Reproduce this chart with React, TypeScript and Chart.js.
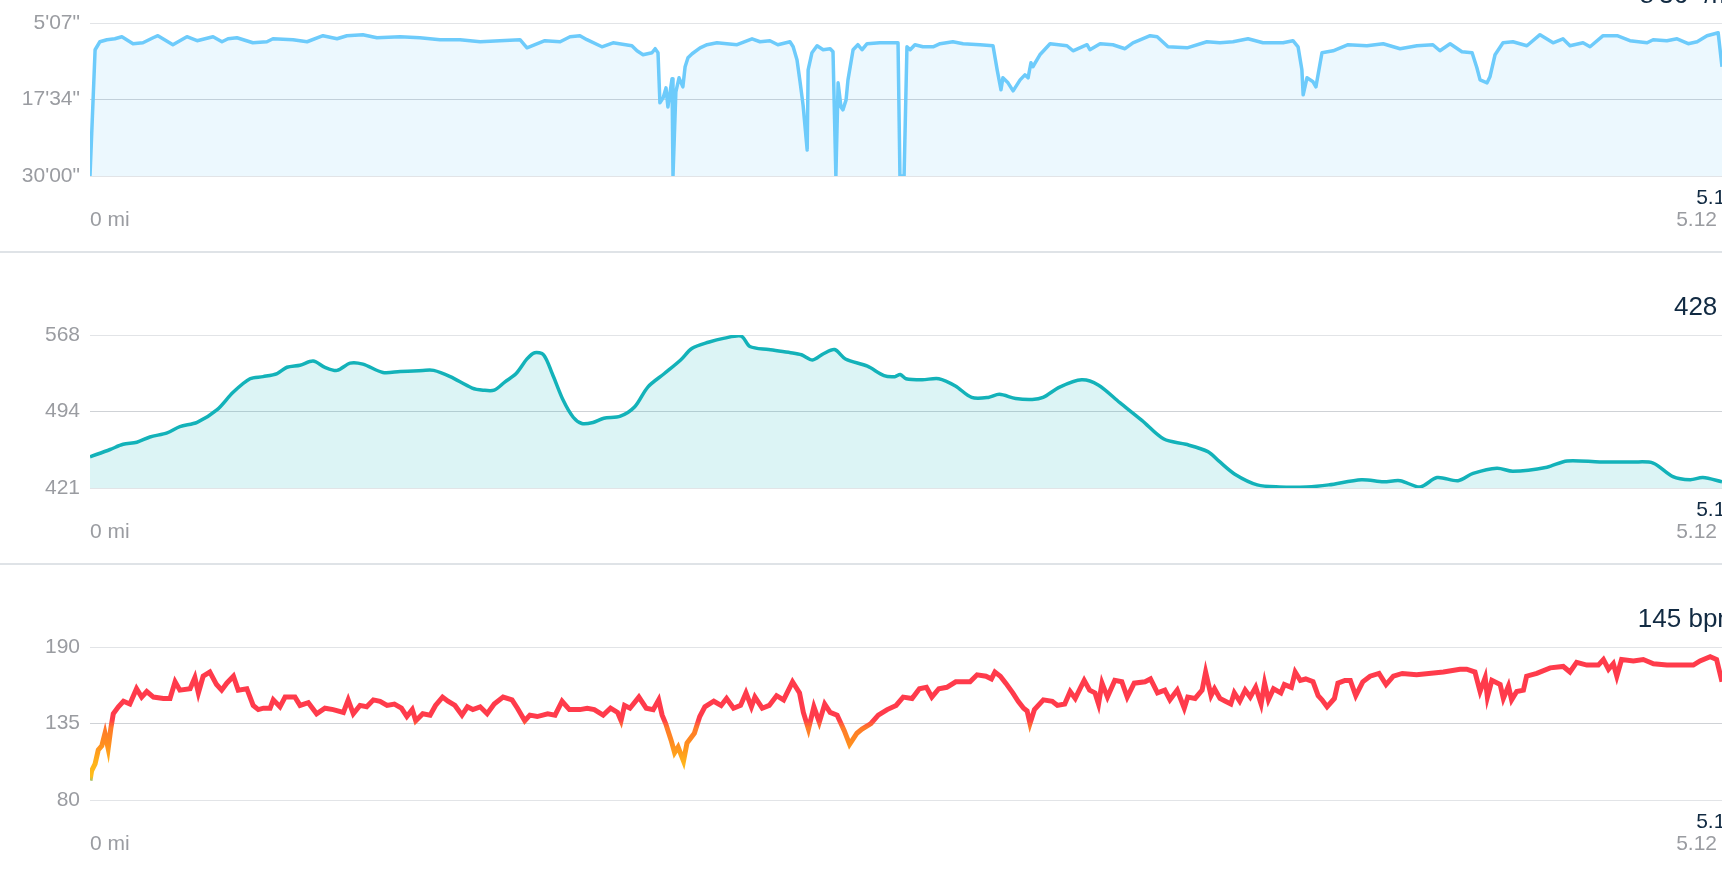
import React, { useEffect, useRef } from 'react';
import { Chart, registerables } from 'chart.js';

Chart.register(...registerables);

const FONT = '"Liberation Sans", Arial, Helvetica, sans-serif';
const TICK_GRAY = '#9a9ca1';
const HEADER_DARK = '#112a42';
const GRID = '#e2e4e7';
const GRID_MID = '#cfd2d6';

// ---- shared axis data ----
const distanceRange = [0, 5.12];
const xLabels = ['0 mi', '5.12 mi'];
const cursorLabel = '5.12';
const headers = ["8'36\" /mi", '428 ft', '145 bpm'];

// ---- pace (seconds per mile) ----
const paceTicks = [307, 1054, 1800];
const paceDist = [
  0.000, 0.016, 0.031, 0.053, 0.078, 0.100, 0.135, 0.166, 0.198, 0.213,
  0.260, 0.304, 0.336, 0.386, 0.414, 0.433, 0.461, 0.511, 0.555, 0.574,
  0.637, 0.681, 0.731, 0.775, 0.806, 0.856, 0.900, 0.973, 1.035, 1.098,
  1.161, 1.224, 1.286, 1.349, 1.371, 1.396, 1.427, 1.475, 1.506, 1.537,
  1.559, 1.606, 1.641, 1.700, 1.716, 1.735, 1.763, 1.773, 1.782, 1.788,
  1.798, 1.807, 1.813, 1.826, 1.829, 1.838, 1.848, 1.860, 1.867, 1.876,
  1.889, 1.914, 1.936, 1.967, 1.998, 2.030, 2.077, 2.102, 2.133, 2.158,
  2.196, 2.206, 2.218, 2.228, 2.237, 2.250, 2.253, 2.265, 2.281, 2.300,
  2.322, 2.331, 2.340, 2.347, 2.356, 2.362, 2.372, 2.378, 2.394, 2.409,
  2.422, 2.438, 2.478, 2.510, 2.535, 2.541, 2.554, 2.563, 2.573, 2.588,
  2.613, 2.645, 2.667, 2.707, 2.739, 2.792, 2.833, 2.846, 2.858, 2.864,
  2.880, 2.896, 2.918, 2.933, 2.943, 2.952, 2.958, 2.980, 3.012, 3.065,
  3.084, 3.128, 3.137, 3.169, 3.209, 3.247, 3.272, 3.326, 3.348, 3.382,
  3.442, 3.504, 3.545, 3.586, 3.633, 3.680, 3.743, 3.774, 3.790, 3.802,
  3.806, 3.818, 3.837, 3.846, 3.865, 3.900, 3.947, 4.006, 4.057, 4.110,
  4.163, 4.213, 4.235, 4.267, 4.304, 4.336, 4.351, 4.361, 4.383, 4.392,
  4.408, 4.433, 4.464, 4.508, 4.549, 4.590, 4.621, 4.643, 4.684, 4.706,
  4.747, 4.791, 4.831, 4.885, 4.904, 4.947, 4.979, 5.014, 5.042, 5.073,
  5.108, 5.120,
];
const paceSec = [
  1800, 568, 490, 470, 461, 441, 509, 500, 451, 431,
  519, 441, 480, 441, 490, 461, 451, 500, 490, 461,
  470, 490, 431, 461, 431, 421, 451, 441, 451, 470,
  470, 490, 480, 470, 549, 519, 480, 490, 441, 431,
  470, 539, 500, 529, 578, 617, 597, 558, 597, 1086,
  1038, 940, 1126, 852, 1800, 979, 842, 930, 734, 646,
  607, 549, 519, 500, 509, 519, 461, 490, 480, 519,
  490, 539, 666, 891, 1106, 1546, 764, 597, 529, 568,
  558, 588, 1800, 891, 1126, 1155, 1057, 862, 568, 519,
  568, 509, 500, 500, 500, 1800, 1800, 539, 568, 519,
  539, 539, 509, 490, 509, 519, 529, 764, 959, 842,
  891, 969, 862, 813, 842, 695, 734, 617, 509, 529,
  578, 519, 568, 509, 519, 558, 500, 431, 441, 539,
  549, 490, 500, 490, 461, 500, 500, 480, 539, 764,
  1008, 842, 881, 930, 597, 578, 519, 529, 509, 558,
  529, 519, 578, 509, 588, 597, 744, 862, 891, 832,
  617, 500, 490, 529, 421, 500, 461, 529, 500, 539,
  431, 431, 480, 500, 470, 480, 461, 509, 490, 431,
  402, 734,
];

// ---- elevation (ft) ----
const elevTicks = [421, 494.5, 568];
const elevTickLabels = ['421', '494', '568'];
const elevDist = [
  0.000, 0.063, 0.104, 0.147, 0.188, 0.242, 0.282, 0.336, 0.398, 0.449,
  0.502, 0.543, 0.587, 0.618, 0.659, 0.700, 0.737, 0.775, 0.816, 0.856,
  0.919, 0.973, 1.044, 1.078, 1.130, 1.199, 1.233, 1.268, 1.302, 1.337,
  1.371, 1.395, 1.423, 1.450, 1.485, 1.516, 1.543, 1.578, 1.612, 1.664,
  1.709, 1.750, 1.802, 1.853, 1.888, 1.940, 1.991, 2.043, 2.070, 2.129,
  2.198, 2.232, 2.267, 2.301, 2.336, 2.370, 2.439, 2.491, 2.525, 2.542,
  2.560, 2.611, 2.663, 2.715, 2.766, 2.818, 2.853, 2.904, 2.956, 2.990,
  3.042, 3.111, 3.163, 3.231, 3.300, 3.369, 3.438, 3.507, 3.541, 3.593,
  3.662, 3.731, 3.817, 3.886, 3.989, 4.058, 4.110, 4.173, 4.226, 4.292,
  4.339, 4.414, 4.464, 4.571, 4.634, 4.737, 4.841, 4.904, 4.966, 5.020,
  5.060, 5.120,
];
const elevFt = [
  451, 458, 463, 465, 470, 474, 480, 484, 496, 513,
  526, 528, 531, 537, 539, 543, 537, 534, 541, 540,
  532, 533, 534, 534, 528, 517, 515, 515, 523, 531,
  545, 551, 549, 531, 505, 489, 483, 484, 488, 490,
  499, 518, 531, 544, 555, 561, 565, 567, 557, 554,
  551, 549, 544, 550, 554, 545, 538, 529, 528, 530,
  526, 525, 526, 519, 508, 508, 511, 507, 506, 508,
  518, 525, 520, 503, 486, 468, 463, 456, 447, 434,
  424, 422, 422, 424, 429, 427, 428, 422, 431, 428,
  435, 440, 437, 441, 447, 446, 446, 445, 432, 429,
  431, 427,
];

// ---- heart rate (bpm) ----
const hrTicks = [80, 135, 190];
const hrDist = [
  0.000, 0.005, 0.016, 0.026, 0.037, 0.047, 0.057, 0.065, 0.073, 0.089,
  0.105, 0.125, 0.146, 0.162, 0.178, 0.199, 0.230, 0.251, 0.267, 0.282,
  0.314, 0.329, 0.340, 0.355, 0.376, 0.397, 0.413, 0.429, 0.450, 0.465,
  0.492, 0.512, 0.528, 0.544, 0.565, 0.575, 0.596, 0.612, 0.643, 0.659,
  0.685, 0.711, 0.737, 0.763, 0.795, 0.810, 0.826, 0.847, 0.868, 0.889,
  0.910, 0.932, 0.955, 0.977, 0.994, 1.011, 1.022, 1.044, 1.067, 1.084,
  1.106, 1.123, 1.145, 1.167, 1.184, 1.201, 1.224, 1.246, 1.268, 1.296,
  1.324, 1.341, 1.364, 1.380, 1.403, 1.436, 1.459, 1.481, 1.504, 1.537,
  1.560, 1.582, 1.610, 1.633, 1.655, 1.666, 1.677, 1.694, 1.722, 1.745,
  1.767, 1.784, 1.795, 1.806, 1.823, 1.834, 1.845, 1.862, 1.873, 1.896,
  1.913, 1.929, 1.957, 1.980, 1.997, 2.019, 2.041, 2.058, 2.075, 2.086,
  2.109, 2.131, 2.154, 2.176, 2.204, 2.226, 2.238, 2.254, 2.271, 2.288,
  2.305, 2.322, 2.344, 2.366, 2.383, 2.406, 2.422, 2.450, 2.473, 2.501,
  2.529, 2.551, 2.579, 2.602, 2.624, 2.641, 2.663, 2.688, 2.716, 2.761,
  2.783, 2.811, 2.828, 2.839, 2.856, 2.873, 2.895, 2.912, 2.929, 2.940,
  2.949, 2.963, 2.991, 3.019, 3.035, 3.058, 3.075, 3.091, 3.108, 3.119,
  3.136, 3.153, 3.164, 3.175, 3.192, 3.215, 3.237, 3.254, 3.276, 3.310,
  3.327, 3.349, 3.372, 3.388, 3.411, 3.433, 3.444, 3.467, 3.489, 3.500,
  3.517, 3.528, 3.545, 3.562, 3.579, 3.590, 3.607, 3.624, 3.640, 3.657,
  3.674, 3.685, 3.697, 3.713, 3.736, 3.747, 3.769, 3.781, 3.797, 3.814,
  3.837, 3.853, 3.865, 3.881, 3.904, 3.915, 3.937, 3.954, 3.971, 3.993,
  4.016, 4.044, 4.066, 4.089, 4.117, 4.162, 4.246, 4.298, 4.319, 4.345,
  4.361, 4.377, 4.384, 4.398, 4.424, 4.434, 4.450, 4.460, 4.476, 4.497,
  4.507, 4.539, 4.581, 4.622, 4.643, 4.664, 4.696, 4.732, 4.748, 4.764,
  4.779, 4.790, 4.805, 4.842, 4.873, 4.905, 4.947, 4.999, 5.030, 5.051,
  5.083, 5.103, 5.120,
];
const hrBpm = [
  94, 101, 106, 116, 119, 128, 117, 131, 142, 147,
  151, 149, 160, 154, 158, 154, 153, 153, 165, 159,
  160, 168, 157, 169, 172, 163, 159, 164, 169, 159,
  160, 148, 145, 146, 146, 152, 147, 154, 154, 148,
  150, 142, 146, 145, 143, 152, 142, 148, 147, 152,
  151, 148, 149, 146, 140, 145, 137, 142, 141, 148,
  154, 151, 148, 141, 147, 145, 147, 142, 149, 154,
  152, 146, 137, 141, 140, 142, 141, 151, 145, 145,
  146, 145, 141, 146, 143, 137, 148, 146, 154, 146,
  145, 152, 141, 135, 123, 114, 118, 108, 121, 128,
  140, 147, 151, 148, 153, 146, 148, 157, 147, 154,
  146, 148, 155, 152, 165, 157, 143, 131, 147, 136,
  149, 143, 141, 130, 120, 128, 131, 135, 141, 145,
  148, 154, 153, 160, 161, 154, 160, 161, 165, 165,
  170, 169, 167, 172, 169, 164, 157, 151, 146, 144,
  135, 145, 152, 151, 148, 149, 158, 153, 161, 166,
  159, 157, 149, 164, 154, 166, 165, 154, 164, 165,
  167, 157, 159, 152, 159, 146, 154, 153, 159, 172,
  155, 160, 153, 151, 149, 157, 151, 159, 154, 161,
  149, 164, 152, 160, 157, 163, 161, 172, 166, 167,
  165, 155, 152, 147, 153, 164, 166, 166, 155, 165,
  169, 171, 163, 169, 171, 170, 172, 174, 174, 172,
  158, 168, 154, 166, 163, 153, 162, 152, 158, 159,
  169, 171, 175, 176, 172, 179, 177, 177, 181, 174,
  178, 169, 181, 180, 181, 178, 177, 177, 177, 180,
  183, 181, 165,
];

function fmtPace(s: number): string {
  const m = Math.floor(s / 60);
  const ss = Math.round(s - m * 60);
  return `${m}'${String(ss).padStart(2, '0')}"`;
}

function toPoints(xs: number[], ys: number[]) {
  return xs.map((x, i) => ({ x, y: ys[i] }));
}

const panelText = {
  id: 'panelText',
  afterDraw(chart: any, _args: any, opts: any) {
    const { ctx, chartArea, scales } = chart;
    const x0 = scales.x.getPixelForValue(distanceRange[0]);
    const xEnd = scales.x.getPixelForValue(distanceRange[1]);
    ctx.save();
    ctx.textBaseline = 'middle';
    ctx.textAlign = 'right';
    ctx.fillStyle = HEADER_DARK;
    ctx.font = `26px ${FONT}`;
    ctx.fillText(opts.header, xEnd + 17, chartArea.top - 27);
    ctx.font = `21px ${FONT}`;
    ctx.fillText(cursorLabel, xEnd + 15, chartArea.bottom + 22);
    ctx.fillStyle = TICK_GRAY;
    ctx.fillText(xLabels[1], xEnd + 23, chartArea.bottom + 44);
    ctx.textAlign = 'left';
    ctx.fillText(xLabels[0], x0, chartArea.bottom + 44);
    ctx.restore();
  },
};

function yScale(ticks: number[], min: number, max: number, label: (v: number, i: number) => string, reverse = false) {
  return {
    type: 'linear',
    min,
    max,
    reverse,
    afterBuildTicks: (s: any) => {
      s.ticks = ticks.map((v) => ({ value: v }));
    },
    afterFit: (s: any) => {
      s.width = 90;
    },
    border: { display: false },
    grid: {
      drawTicks: false,
      color: (c: any) => (c.index === 1 ? GRID_MID : GRID),
      lineWidth: 1,
    },
    ticks: {
      padding: 10,
      color: TICK_GRAY,
      font: { family: FONT, size: 21 },
      callback: (v: any, i: number) => label(Number(v), i),
    },
  };
}

function hrGradient(c: any) {
  const chart = c.chart;
  if (!chart.chartArea) return '#ff3b4b';
  const y = chart.scales.y;
  const g = chart.ctx.createLinearGradient(0, y.getPixelForValue(90), 0, y.getPixelForValue(140));
  g.addColorStop(0, '#3cc4c2');
  g.addColorStop(0.14, '#ffbd1a');
  g.addColorStop(0.32, '#ffb41a');
  g.addColorStop(0.62, '#ff8c1f');
  g.addColorStop(0.84, '#ff7a2a');
  g.addColorStop(0.95, '#ff3d4a');
  g.addColorStop(1, '#ff3b4b');
  return g;
}

function baseOptions(header: string, y: any) {
  return {
    responsive: false,
    animation: false,
    events: [],
    layout: { padding: { top: 82, bottom: 75, left: 0, right: 38 } },
    plugins: {
      legend: { display: false },
      tooltip: { enabled: false },
      panelText: { header },
    },
    scales: {
      x: { type: 'linear', min: distanceRange[0], max: distanceRange[1], display: false },
      y,
    },
  };
}

const configs = [
  () => ({
    type: 'line',
    data: {
      datasets: [
        {
          data: toPoints(paceDist, paceSec),
          borderColor: '#6dcbfb',
          backgroundColor: 'rgba(109,203,251,0.13)',
          fill: 'start',
          borderWidth: 3.5,
          pointRadius: 0,
          tension: 0,
          borderJoinStyle: 'round',
        },
      ],
    },
    options: baseOptions(headers[0], yScale(paceTicks, paceTicks[0], paceTicks[2], (v) => fmtPace(v), true)),
    plugins: [panelText],
  }),
  () => ({
    type: 'line',
    data: {
      datasets: [
        {
          data: toPoints(elevDist, elevFt),
          borderColor: '#13b2b9',
          backgroundColor: 'rgba(19,178,185,0.15)',
          fill: 'start',
          borderWidth: 3.5,
          pointRadius: 0,
          tension: 0.3,
          borderJoinStyle: 'round',
        },
      ],
    },
    options: baseOptions(headers[1], yScale(elevTicks, elevTicks[0], elevTicks[2], (_v, i) => elevTickLabels[i])),
    plugins: [panelText],
  }),
  () => ({
    type: 'line',
    data: {
      datasets: [
        {
          data: toPoints(hrDist, hrBpm),
          borderColor: hrGradient,
          fill: false,
          borderWidth: 5,
          pointRadius: 0,
          tension: 0,
          borderJoinStyle: 'miter',
        },
      ],
    },
    options: baseOptions(headers[2], yScale(hrTicks, hrTicks[0], hrTicks[2], (v) => String(v))),
    plugins: [panelText],
  }),
];

const CANVAS_W = 1760;
const CANVAS_H = 310;

function Panel({ make, last }: { make: () => any; last: boolean }) {
  const ref = useRef<HTMLCanvasElement | null>(null);
  useEffect(() => {
    if (!ref.current) return;
    const chart = new Chart(ref.current, make());
    return () => chart.destroy();
  }, [make]);
  return (
    <div
      style={{
        position: 'relative',
        width: CANVAS_W,
        height: CANVAS_H,
        borderBottom: last ? 'none' : '2px solid #dfe3e7',
      }}
    >
      <canvas ref={ref} width={CANVAS_W} height={CANVAS_H} style={{ display: 'block', width: CANVAS_W, height: CANVAS_H }} />
    </div>
  );
}

export default function App() {
  return (
    <div style={{ position: 'fixed', left: 0, top: 0, width: '100vw', height: '100vh', overflow: 'hidden', background: '#ffffff' }}>
      <div style={{ position: 'absolute', left: 0, top: -59, width: CANVAS_W }}>
        {configs.map((make, i) => (
          <Panel key={i} make={make} last={i === configs.length - 1} />
        ))}
      </div>
    </div>
  );
}
